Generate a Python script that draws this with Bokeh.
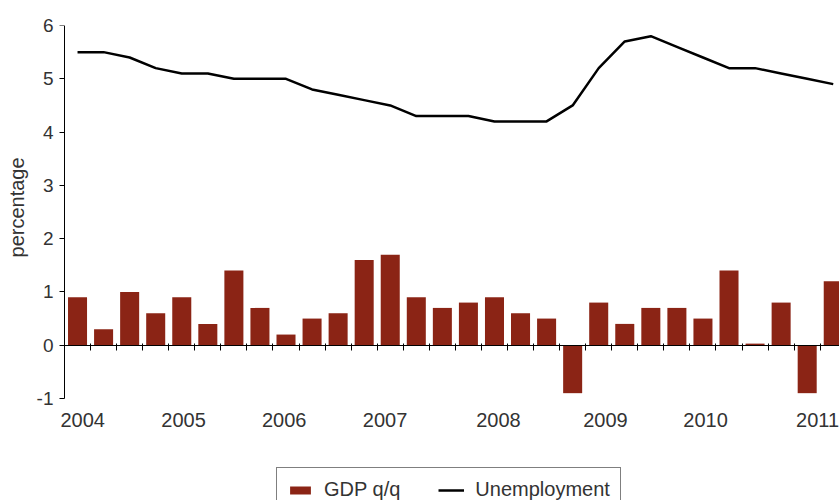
import numpy as np
from bokeh.plotting import figure
from bokeh.models import Range1d, LinearAxis, FixedTicker, Legend, LegendItem, ColumnDataSource
from bokeh.core.properties import value
from bokeh.embed import file_html
from bokeh.resources import INLINE

# ---- data ----
quarters = ["2004Q1", "2004Q2", "2004Q3", "2004Q4", "2005Q1", "2005Q2", "2005Q3", "2005Q4",
            "2006Q1", "2006Q2", "2006Q3", "2006Q4", "2007Q1", "2007Q2", "2007Q3", "2007Q4",
            "2008Q1", "2008Q2", "2008Q3", "2008Q4", "2009Q1", "2009Q2", "2009Q3", "2009Q4",
            "2010Q1", "2010Q2", "2010Q3", "2010Q4", "2011Q1", "2011Q2"]
gdp_qq = [0.9, 0.3, 1.0, 0.6, 0.9, 0.4, 1.4, 0.7, 0.2, 0.5, 0.6, 1.6, 1.7, 0.9, 0.7,
          0.8, 0.9, 0.6, 0.5, -0.9, 0.8, 0.4, 0.7, 0.7, 0.5, 1.4, 0.03, 0.8, -0.9, 1.2]
unemployment = [5.5, 5.5, 5.4, 5.2, 5.1, 5.1, 5.0, 5.0, 5.0, 4.8, 4.7, 4.6, 4.5, 4.3, 4.3,
                4.3, 4.2, 4.2, 4.2, 4.5, 5.2, 5.7, 5.8, 5.6, 5.4, 5.2, 5.2, 5.1, 5.0, 4.9]
year_labels = ["2004", "2005", "2006", "2007", "2008", "2009", "2010", "2011"]
y_ticks = [-1, 0, 1, 2, 3, 4, 5, 6]
y_title = "percentage"

# ---- layout constants ----
year_label_x = [0.70, 4.57, 8.43, 12.30, 16.65, 20.76, 24.60, 28.90]
RED = "#8B2415"
FONT = "Liberation Sans"
TXT = "#333333"
W, H = 839, 500
AXIS_L, FRAME_L, FRAME_T, AXIS_BOTTOM_PX = 64, 56, 25, 398
X_END = 29.74

n = len(quarters)
x = np.arange(n) + 0.5
src = ColumnDataSource(dict(x=x, gdp=gdp_qq, unemp=unemployment, q=quarters))

y_top, y_bot = y_ticks[-1], y_ticks[0]
y_start = y_top - (y_top - y_bot) * (H - FRAME_T) / (AXIS_BOTTOM_PX - FRAME_T)
px_per_q = (W - AXIS_L) / X_END
x_start = -(AXIS_L - FRAME_L) / px_per_q

p = figure(width=W, height=H, x_range=Range1d(x_start, X_END), y_range=Range1d(y_start, y_top),
           output_backend="svg", toolbar_location=None, title=None,
           min_border_left=FRAME_L, min_border_right=0, min_border_top=FRAME_T,
           min_border_bottom=0, x_axis_location=None)
p.outline_line_color = None
p.xgrid.visible = False
p.ygrid.visible = False

bars = p.vbar(x="x", top="gdp", width=0.73, source=src, fill_color=RED, line_color=None)
ln = p.line(x="x", y="unemp", source=src, line_color="black", line_width=2.5)

# y axis: labels + title at the frame edge (no line / ticks)
ya = p.yaxis[0]
ya.ticker = FixedTicker(ticks=y_ticks)
ya.major_label_overrides = {-1: "-1"}
ya.axis_line_color = None
ya.major_tick_line_color = None
ya.minor_tick_line_color = None
ya.major_tick_out = 0
ya.major_tick_in = 0
ya.major_label_text_font = FONT
ya.major_label_text_font_size = "19px"
ya.major_label_text_color = TXT
ya.major_label_standoff = 3
# leading no-break spaces lift the title to the centre of the -1..6 span
ya.axis_label = "\u00a0" * 20 + y_title
ya.axis_label_text_font = FONT
ya.axis_label_text_font_size = "20px"
ya.axis_label_text_font_style = "normal"
ya.axis_label_text_color = TXT
ya.axis_label_standoff = 6

# y axis line + ticks drawn at x = 0
ya2 = LinearAxis(fixed_location=0, ticker=FixedTicker(ticks=y_ticks), bounds=(y_bot, y_top),
                 major_tick_out=5, major_tick_in=0, axis_line_color="black",
                 major_tick_line_color="black", minor_tick_line_color=None,
                 major_label_text_alpha=0, major_label_text_font_size="1px",
                 major_label_standoff=0)
p.add_layout(ya2, "left")

# zero axis with quarter ticks (kept in the top panel, drawn at y=0)
ax0 = LinearAxis(fixed_location=0, ticker=FixedTicker(ticks=list(range(n + 1))),
                 bounds=(0, X_END), major_tick_in=5, major_tick_out=2,
                 axis_line_color="black", major_tick_line_color="black",
                 minor_tick_line_color=None, major_label_text_alpha=0,
                 major_label_text_font_size="1px", major_label_standoff=0)
p.add_layout(ax0, "above")

# year labels under the -1 line
yl = ColumnDataSource(dict(x=year_label_x, y=[y_bot] * len(year_labels), t=year_labels))
p.text(x="x", y="y", text="t", source=yl, text_align="center", text_baseline="top",
       y_offset=14, text_font=value(FONT), text_font_size=value("20px"), text_color=TXT)

legend = Legend(items=[LegendItem(label="GDP q/q", renderers=[bars]),
                       LegendItem(label="Unemployment", renderers=[ln])],
                orientation="horizontal", location=(AXIS_L - FRAME_L + 212, -12))
legend.label_text_font = FONT
legend.label_text_font_size = "20px"
legend.label_text_color = TXT
legend.label_standoff = 11
legend.spacing = 38
legend.glyph_width = 26
legend.glyph_height = 10
legend.padding = 10
legend.margin = 0
legend.border_line_color = "black"
legend.border_line_width = 1
legend.background_fill_color = "white"
legend.background_fill_alpha = 1
p.add_layout(legend, "center")

open("out.html", "w").write(file_html(p, INLINE))
